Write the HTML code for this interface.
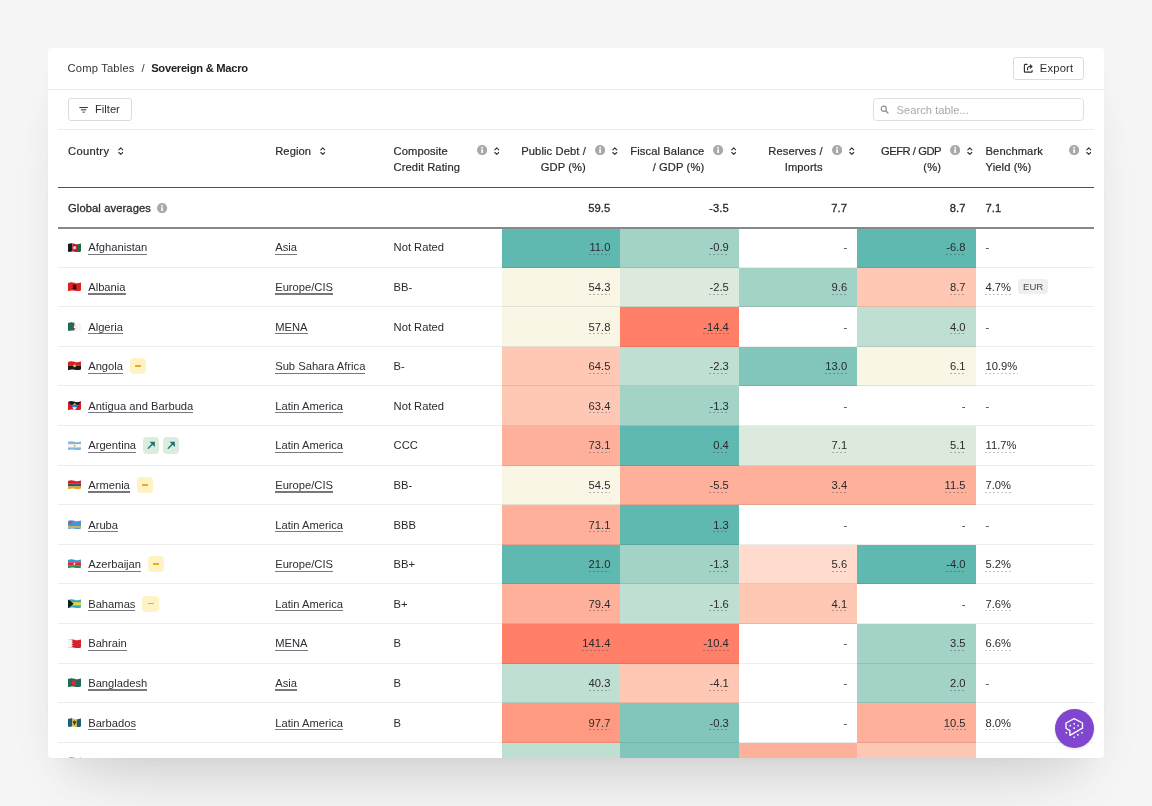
<!DOCTYPE html>
<html lang="en"><head><meta charset="utf-8"><title>Comp Tables / Sovereign &amp; Macro</title>
<style>
*{box-sizing:border-box;margin:0;padding:0}
html,body{width:1152px;height:806px;overflow:hidden;background:#f5f5f5}
body{font-family:"Liberation Sans",Arial,sans-serif;font-size:11.2px;color:#2a2a2e;position:relative}
.card{position:absolute;left:48px;top:48px;width:1056px;height:710px;background:#fff;border-radius:3.5px;overflow:hidden;
 box-shadow:0 26px 40px -16px rgba(0,0,0,.09),0 50px 80px -40px rgba(0,0,0,.11),0 1px 4px rgba(0,0,0,.015)}
.top{position:absolute;left:0;top:0;width:1056px;height:41.5px;border-bottom:1px solid #ececec}
.crumb{position:absolute;left:19.6px;top:12.9px;line-height:14px;white-space:nowrap;color:#34343a}
.crumb b{font-weight:700;color:#222226;letter-spacing:-.27px}
.crumb .ct{letter-spacing:.17px}
.crumb .sl{margin:0 6.5px 0 7px}
.btn{position:absolute;height:22.5px;border:1px solid #dcdcdc;border-radius:3px;background:#fff;display:flex;align-items:center;color:#2e2e33;white-space:nowrap}
.export{left:965px;top:9.3px;width:71px;padding-left:9px;padding-bottom:1.6px;letter-spacing:.2px}
.export svg{position:relative;top:.8px}
.export svg{margin-right:6.3px}
.filter{left:20px;top:50.3px;width:64px;padding-left:9.6px;padding-bottom:1.2px}
.filter svg{position:relative;top:.6px}
.filter svg{margin-right:7.2px}
.search{position:absolute;left:825px;top:50.3px;width:211px;height:22.5px;border:1px solid #dedede;border-radius:3.5px;display:flex;align-items:center;padding-left:6px;color:#a9a9ad}
.search svg{margin-right:7.6px}
.tbl{position:absolute;left:10px;top:81.3px;width:1036px;border-top:1px solid #ededed}
.hrow{display:flex;height:57.3px}
.ln1{position:absolute;left:0;width:1036px;top:56.4px;height:1.5px;background:#4d5158;z-index:3}
.ln2{position:absolute;left:0;width:1036px;top:96.7px;height:2.1px;background:#85888e;z-index:3}
.h{width:118.4px;flex:none;padding:12.7px 0 0 10px;line-height:16px;letter-spacing:.09px;-webkit-text-stroke:.2px #2a2a2e;position:relative;white-space:nowrap;color:#2a2a2e}
.c0{width:207.2px!important}
.h .sort{display:inline-block;vertical-align:.1px;margin-left:8.6px}
.h .ics{position:absolute;right:2.6px;top:14.4px;display:flex;align-items:center}
.h .ics .info{margin-right:7px}
.h .ics .sort{margin:2px 0 0 0}
.h.r .ht{display:block;text-align:right;padding-right:34.5px}
.h.l .ht{display:block}
.grow{display:flex;height:40.5px;align-items:center;-webkit-text-stroke:.3px #2a2a2e;letter-spacing:.1px;color:#2a2a2e}
.grow .c{height:100%}
.row{display:flex;height:39.6px;border-bottom:1px solid #ededed}
.c{width:118.4px;flex:none;padding:0 10px;display:flex;align-items:center;white-space:nowrap;position:relative}
.c.num{justify-content:flex-end}
.c.col{margin-bottom:-1px;border-bottom:1px solid rgba(0,0,0,.09);height:39.6px}
.flag{margin-right:7px;flex:none;border-radius:1px}
.lnk{color:#2e2e33;position:relative;display:inline-block;line-height:14px}
.lnk::after{content:'';position:absolute;left:0;right:0;top:13.4px;height:1.3px;background:#77777d}
.v{position:relative;display:inline-block;line-height:14px}
.v::after{content:'';position:absolute;left:0;right:0;top:13.6px;height:1px;background:repeating-linear-gradient(90deg,rgba(40,50,60,.34) 0 2.2px,transparent 2.2px 4px)}
.y .v::after{left:-.6px;right:-.6px;background:repeating-linear-gradient(90deg,#c4c4c9 0 2.3px,transparent 2.3px 4px)}
.dash{color:#444}
.bdg{display:inline-flex;width:16.4px;height:16.4px;border-radius:4px;margin-left:7px;align-items:center;justify-content:center;flex:none}
.bu + .bu{margin-left:3.3px}
.bn{background:#fff3c6}
.bn i{display:block;width:6px;height:1.5px;background:#eaa91f;border-radius:.5px}
.bu{background:#dcecdf}
.tag{margin-left:7px;background:#efefef;color:#4a4a50;font-size:9.6px;border-radius:3px;padding:0 5px;line-height:15px;height:15px}
.fab{position:absolute;left:1054.5px;top:708.5px;width:39.5px;height:39.5px;border-radius:50%;background:#8146d0;display:flex;align-items:center;justify-content:center;box-shadow:0 1px 3px rgba(0,0,0,.12)}
</style></head><body>
<svg width="0" height="0" style="position:absolute"><defs><clipPath id="wv"><path d="M0 .9C1.6 0 4.4 0 6.4.7S10.8 1.3 13 .1V7.1C11 8 8.6 7.9 6.5 7.4S1.8 6.9 0 7.9Z"/></clipPath></defs></svg>
<div class="card">
 <div class="top">
  <div class="crumb"><span class="ct">Comp Tables</span><span class="sl">/</span><b>Sovereign &amp; Macro</b></div>
  <div class="btn export"><svg viewBox="0 0 12 12" width="10.5" height="10.5"><path d="M4.6 1.6H2.4a.8.8 0 0 0-.8.8v7.2c0 .44.36.8.8.8h7.2a.8.8 0 0 0 .8-.8V8.6" fill="none" stroke="#2e2e33" stroke-width="1.3" stroke-linecap="round"/><path d="M5.2 7.6V6.3c0-1.3 1-2.3 2.3-2.3h1.4" fill="none" stroke="#2e2e33" stroke-width="1.3" stroke-linecap="round" stroke-linejoin="round"/><path d="M8.2 1.5l2.6 2.5-2.6 2.5z" fill="#2e2e33" stroke="#2e2e33" stroke-width=".5" stroke-linejoin="round"/></svg>Export</div>
 </div>
 <div class="btn filter"><svg viewBox="0 0 12 10" width="9.2" height="7.7"><path d="M1 2h10M3 5h6M5.2 8h1.6" fill="none" stroke="#2e2e33" stroke-width="1.3" stroke-linecap="round"/></svg>Filter</div>
 <div class="search"><svg viewBox="0 0 12 12" width="9" height="9"><circle cx="5" cy="5" r="3.4" fill="none" stroke="#8f8f94" stroke-width="1.6"/><path d="M7.6 7.6l3 3" stroke="#8f8f94" stroke-width="1.7" stroke-linecap="round"/></svg>Search table...</div>
 <div class="tbl">
  <div class="ln1"></div><div class="ln2"></div>
  <div class="hrow"><div class="h c0"><span class="ht1" style="letter-spacing:.3px">Country</span><svg class="sort" viewBox="0 0 6 9" width="5.6" height="8.4"><path d="M.9 3.1L3 1l2.1 2.1M.9 5.9L3 8l2.1-2.1" fill="none" stroke="#2e2e33" stroke-width="1.15" stroke-linecap="round" stroke-linejoin="round"/></svg></div><div class="h"><span class="ht1">Region</span><svg class="sort" viewBox="0 0 6 9" width="5.6" height="8.4"><path d="M.9 3.1L3 1l2.1 2.1M.9 5.9L3 8l2.1-2.1" fill="none" stroke="#2e2e33" stroke-width="1.15" stroke-linecap="round" stroke-linejoin="round"/></svg></div><div class="h l"><span class="ht">Composite<br>Credit Rating</span><span class="ics"><svg class="info" viewBox="0 0 12 12" width="10.2" height="10.2"><circle cx="6" cy="6" r="6" fill="#a9a9ab"/><rect x="5" y="4.9" width="2" height="4.6" rx=".3" fill="#fff"/><circle cx="6" cy="3.1" r="1.1" fill="#fff"/></svg><svg class="sort" viewBox="0 0 6 9" width="5.6" height="8.4"><path d="M.9 3.1L3 1l2.1 2.1M.9 5.9L3 8l2.1-2.1" fill="none" stroke="#2e2e33" stroke-width="1.15" stroke-linecap="round" stroke-linejoin="round"/></svg></span></div><div class="h r"><span class="ht">Public Debt /<br>GDP (%)</span><span class="ics"><svg class="info" viewBox="0 0 12 12" width="10.2" height="10.2"><circle cx="6" cy="6" r="6" fill="#a9a9ab"/><rect x="5" y="4.9" width="2" height="4.6" rx=".3" fill="#fff"/><circle cx="6" cy="3.1" r="1.1" fill="#fff"/></svg><svg class="sort" viewBox="0 0 6 9" width="5.6" height="8.4"><path d="M.9 3.1L3 1l2.1 2.1M.9 5.9L3 8l2.1-2.1" fill="none" stroke="#2e2e33" stroke-width="1.15" stroke-linecap="round" stroke-linejoin="round"/></svg></span></div><div class="h r"><span class="ht">Fiscal Balance<br>/ GDP (%)</span><span class="ics"><svg class="info" viewBox="0 0 12 12" width="10.2" height="10.2"><circle cx="6" cy="6" r="6" fill="#a9a9ab"/><rect x="5" y="4.9" width="2" height="4.6" rx=".3" fill="#fff"/><circle cx="6" cy="3.1" r="1.1" fill="#fff"/></svg><svg class="sort" viewBox="0 0 6 9" width="5.6" height="8.4"><path d="M.9 3.1L3 1l2.1 2.1M.9 5.9L3 8l2.1-2.1" fill="none" stroke="#2e2e33" stroke-width="1.15" stroke-linecap="round" stroke-linejoin="round"/></svg></span></div><div class="h r"><span class="ht">Reserves /<br>Imports</span><span class="ics"><svg class="info" viewBox="0 0 12 12" width="10.2" height="10.2"><circle cx="6" cy="6" r="6" fill="#a9a9ab"/><rect x="5" y="4.9" width="2" height="4.6" rx=".3" fill="#fff"/><circle cx="6" cy="3.1" r="1.1" fill="#fff"/></svg><svg class="sort" viewBox="0 0 6 9" width="5.6" height="8.4"><path d="M.9 3.1L3 1l2.1 2.1M.9 5.9L3 8l2.1-2.1" fill="none" stroke="#2e2e33" stroke-width="1.15" stroke-linecap="round" stroke-linejoin="round"/></svg></span></div><div class="h r"><span class="ht"><span style="letter-spacing:-.45px">GEFR / GDP</span><br>(%)</span><span class="ics"><svg class="info" viewBox="0 0 12 12" width="10.2" height="10.2"><circle cx="6" cy="6" r="6" fill="#a9a9ab"/><rect x="5" y="4.9" width="2" height="4.6" rx=".3" fill="#fff"/><circle cx="6" cy="3.1" r="1.1" fill="#fff"/></svg><svg class="sort" viewBox="0 0 6 9" width="5.6" height="8.4"><path d="M.9 3.1L3 1l2.1 2.1M.9 5.9L3 8l2.1-2.1" fill="none" stroke="#2e2e33" stroke-width="1.15" stroke-linecap="round" stroke-linejoin="round"/></svg></span></div><div class="h l"><span class="ht">Benchmark<br>Yield (%)</span><span class="ics"><svg class="info" viewBox="0 0 12 12" width="10.2" height="10.2"><circle cx="6" cy="6" r="6" fill="#a9a9ab"/><rect x="5" y="4.9" width="2" height="4.6" rx=".3" fill="#fff"/><circle cx="6" cy="3.1" r="1.1" fill="#fff"/></svg><svg class="sort" viewBox="0 0 6 9" width="5.6" height="8.4"><path d="M.9 3.1L3 1l2.1 2.1M.9 5.9L3 8l2.1-2.1" fill="none" stroke="#2e2e33" stroke-width="1.15" stroke-linecap="round" stroke-linejoin="round"/></svg></span></div></div>
  <div class="grow"><div class="c c0">Global averages<span style="margin-left:6.5px;display:inline-flex"><svg class="info" viewBox="0 0 12 12" width="10.2" height="10.2"><circle cx="6" cy="6" r="6" fill="#a9a9ab"/><rect x="5" y="4.9" width="2" height="4.6" rx=".3" fill="#fff"/><circle cx="6" cy="3.1" r="1.1" fill="#fff"/></svg></span></div><div class="c"></div><div class="c"></div><div class="c num">59.5</div><div class="c num">-3.5</div><div class="c num">7.7</div><div class="c num">8.7</div><div class="c">7.1</div></div>
<div class="row"><div class="c c0"><svg class="flag" viewBox="0 0 13 8" width="13.2" height="9.6" preserveAspectRatio="none"><g clip-path="url(#wv)"><rect width="4.4" height="8" fill="#1a1a1a"/><rect x="4.4" width="4.4" height="8" fill="#c8102e"/><rect x="8.8" width="4.2" height="8" fill="#1f6b3a"/><circle cx="6.5" cy="4" r="1.4" fill="#e9d9d0"/></g></svg><a class="lnk">Afghanistan</a></div><div class="c"><a class="lnk">Asia</a></div><div class="c">Not Rated</div><div class="c num col" style="background:#60b9b0"><span class="v">11.0</span></div><div class="c num col" style="background:#a3d2c6"><span class="v">-0.9</span></div><div class="c num"><span class="dash">-</span></div><div class="c num col" style="background:#60b9b0"><span class="v">-6.8</span></div><div class="c y"><span class="dash">-</span></div></div>
<div class="row"><div class="c c0"><svg class="flag" viewBox="0 0 13 8" width="13.2" height="9.6" preserveAspectRatio="none"><g clip-path="url(#wv)"><rect width="13" height="8" fill="#e0221c"/><path d="M4.5 2.2h4l-.6 1.6.8 1.6-2.2 1-2.2-1 .8-1.6z" fill="#2a0b0b"/></g></svg><a class="lnk">Albania</a></div><div class="c"><a class="lnk">Europe/CIS</a></div><div class="c">BB-</div><div class="c num col" style="background:#faf6e6"><span class="v">54.3</span></div><div class="c num col" style="background:#dceade"><span class="v">-2.5</span></div><div class="c num col" style="background:#a3d2c6"><span class="v">9.6</span></div><div class="c num col" style="background:#ffc8b4"><span class="v">8.7</span></div><div class="c y"><span class="v">4.7%</span><span class="tag">EUR</span></div></div>
<div class="row"><div class="c c0"><svg class="flag" viewBox="0 0 13 8" width="13.2" height="9.6" preserveAspectRatio="none"><g clip-path="url(#wv)"><rect width="6.5" height="8" fill="#1f6a55"/><rect x="6.5" width="6.5" height="8" fill="#f4f4f4"/><circle cx="6.3" cy="4" r="1.8" fill="#c81e2e"/><circle cx="7" cy="4" r="1.4" fill="#f4f4f4"/></g></svg><a class="lnk">Algeria</a></div><div class="c"><a class="lnk">MENA</a></div><div class="c">Not Rated</div><div class="c num col" style="background:#faf6e6"><span class="v">57.8</span></div><div class="c num col" style="background:#ff7f68"><span class="v">-14.4</span></div><div class="c num"><span class="dash">-</span></div><div class="c num col" style="background:#c0dfd3"><span class="v">4.0</span></div><div class="c y"><span class="dash">-</span></div></div>
<div class="row"><div class="c c0"><svg class="flag" viewBox="0 0 13 8" width="13.2" height="9.6" preserveAspectRatio="none"><g clip-path="url(#wv)"><rect width="13" height="4" fill="#d2202a"/><rect y="4" width="13" height="4" fill="#1a1a1a"/><circle cx="6.5" cy="4" r="1.3" fill="#f2c230"/></g></svg><a class="lnk">Angola</a><span class="bdg bn"><i></i></span></div><div class="c"><a class="lnk">Sub Sahara Africa</a></div><div class="c">B-</div><div class="c num col" style="background:#ffc8b4"><span class="v">64.5</span></div><div class="c num col" style="background:#c0dfd3"><span class="v">-2.3</span></div><div class="c num col" style="background:#82c5bb"><span class="v">13.0</span></div><div class="c num col" style="background:#faf6e6"><span class="v">6.1</span></div><div class="c y"><span class="v">10.9%</span></div></div>
<div class="row"><div class="c c0"><svg class="flag" viewBox="0 0 13 8" width="13.2" height="9.6" preserveAspectRatio="none"><g clip-path="url(#wv)"><rect width="13" height="8" fill="#d2202a"/><path d="M0 0h13L6.5 8z" fill="#1a1a1a"/><path d="M2.6 3.2h7.8L6.5 8z" fill="#2a7fd4"/><path d="M4.2 5.2h4.6L6.5 8z" fill="#fff"/><path d="M4.6 3.2l1.9-1.6 1.9 1.6z" fill="#f2c230"/></g></svg><a class="lnk">Antigua and Barbuda</a></div><div class="c"><a class="lnk">Latin America</a></div><div class="c">Not Rated</div><div class="c num col" style="background:#ffc8b4"><span class="v">63.4</span></div><div class="c num col" style="background:#a3d2c6"><span class="v">-1.3</span></div><div class="c num"><span class="dash">-</span></div><div class="c num"><span class="dash">-</span></div><div class="c y"><span class="dash">-</span></div></div>
<div class="row"><div class="c c0"><svg class="flag" viewBox="0 0 13 8" width="13.2" height="9.6" preserveAspectRatio="none"><g clip-path="url(#wv)"><rect width="13" height="8" fill="#f6f6f6"/><rect width="13" height="2.6" fill="#7fb6e6"/><rect y="5.4" width="13" height="2.6" fill="#7fb6e6"/><circle cx="6.5" cy="4" r="0.9" fill="#e9b13a"/></g></svg><a class="lnk">Argentina</a><span class="bdg bu"><svg viewBox="0 0 16.4 16.4" width="16.4" height="16.4"><path d="M5.3 11.2L9.6 6.9" fill="none" stroke="#23807a" stroke-width="1.5" stroke-linecap="round"/><path d="M6.6 4.8h5.2v5.2z" fill="#1f6f6b"/></svg></span><span class="bdg bu"><svg viewBox="0 0 16.4 16.4" width="16.4" height="16.4"><path d="M5.3 11.2L9.6 6.9" fill="none" stroke="#23807a" stroke-width="1.5" stroke-linecap="round"/><path d="M6.6 4.8h5.2v5.2z" fill="#1f6f6b"/></svg></span></div><div class="c"><a class="lnk">Latin America</a></div><div class="c">CCC</div><div class="c num col" style="background:#ffb09a"><span class="v">73.1</span></div><div class="c num col" style="background:#60b9b0"><span class="v">0.4</span></div><div class="c num col" style="background:#dceade"><span class="v">7.1</span></div><div class="c num col" style="background:#dceade"><span class="v">5.1</span></div><div class="c y"><span class="v">11.7%</span></div></div>
<div class="row"><div class="c c0"><svg class="flag" viewBox="0 0 13 8" width="13.2" height="9.6" preserveAspectRatio="none"><g clip-path="url(#wv)"><rect width="13" height="2.7" fill="#e01a1f"/><rect y="2.7" width="13" height="2.7" fill="#1f5f7c"/><rect y="5.3" width="13" height="2.7" fill="#f2a01e"/></g></svg><a class="lnk">Armenia</a><span class="bdg bn"><i></i></span></div><div class="c"><a class="lnk">Europe/CIS</a></div><div class="c">BB-</div><div class="c num col" style="background:#faf6e6"><span class="v">54.5</span></div><div class="c num col" style="background:#ffb09a"><span class="v">-5.5</span></div><div class="c num col" style="background:#ffb09a"><span class="v">3.4</span></div><div class="c num col" style="background:#ffb09a"><span class="v">11.5</span></div><div class="c y"><span class="v">7.0%</span></div></div>
<div class="row"><div class="c c0"><svg class="flag" viewBox="0 0 13 8" width="13.2" height="9.6" preserveAspectRatio="none"><g clip-path="url(#wv)"><rect width="13" height="8" fill="#4a90e0"/><rect y="5" width="13" height="0.6" fill="#f2d230"/><rect y="6.2" width="13" height="0.6" fill="#f2d230"/><circle cx="2.4" cy="2.2" r="1" fill="#e0304a"/></g></svg><a class="lnk">Aruba</a></div><div class="c"><a class="lnk">Latin America</a></div><div class="c">BBB</div><div class="c num col" style="background:#ffb09a"><span class="v">71.1</span></div><div class="c num col" style="background:#60b9b0"><span class="v">1.3</span></div><div class="c num"><span class="dash">-</span></div><div class="c num"><span class="dash">-</span></div><div class="c y"><span class="dash">-</span></div></div>
<div class="row"><div class="c c0"><svg class="flag" viewBox="0 0 13 8" width="13.2" height="9.6" preserveAspectRatio="none"><g clip-path="url(#wv)"><rect width="13" height="2.7" fill="#2a9ad8"/><rect y="2.7" width="13" height="2.7" fill="#d8283a"/><rect y="5.3" width="13" height="2.7" fill="#2c8a5a"/><circle cx="6.3" cy="4" r="0.9" fill="#fff"/></g></svg><a class="lnk">Azerbaijan</a><span class="bdg bn"><i></i></span></div><div class="c"><a class="lnk">Europe/CIS</a></div><div class="c">BB+</div><div class="c num col" style="background:#60b9b0"><span class="v">21.0</span></div><div class="c num col" style="background:#a3d2c6"><span class="v">-1.3</span></div><div class="c num col" style="background:#ffdccd"><span class="v">5.6</span></div><div class="c num col" style="background:#60b9b0"><span class="v">-4.0</span></div><div class="c y"><span class="v">5.2%</span></div></div>
<div class="row"><div class="c c0"><svg class="flag" viewBox="0 0 13 8" width="13.2" height="9.6" preserveAspectRatio="none"><g clip-path="url(#wv)"><rect width="13" height="8" fill="#2ab0c4"/><rect y="2.7" width="13" height="2.6" fill="#f2d230"/><path d="M0 0l5.6 4L0 8z" fill="#1a1a1a"/></g></svg><a class="lnk">Bahamas</a><span class="bdg bn"><i></i></span></div><div class="c"><a class="lnk">Latin America</a></div><div class="c">B+</div><div class="c num col" style="background:#ffb09a"><span class="v">79.4</span></div><div class="c num col" style="background:#c0dfd3"><span class="v">-1.6</span></div><div class="c num col" style="background:#ffc8b4"><span class="v">4.1</span></div><div class="c num"><span class="dash">-</span></div><div class="c y"><span class="v">7.6%</span></div></div>
<div class="row"><div class="c c0"><svg class="flag" viewBox="0 0 13 8" width="13.2" height="9.6" preserveAspectRatio="none"><g clip-path="url(#wv)"><rect width="13" height="8" fill="#d8202c"/><path d="M0 0h3.4l1.6 .8-1.6 .8 1.6 .8-1.6 .8 1.6 .8-1.6 .8 1.6 .8-1.6 .8 1.6 .8-1.6 .8H0z" fill="#f6f6f6"/></g></svg><a class="lnk">Bahrain</a></div><div class="c"><a class="lnk">MENA</a></div><div class="c">B</div><div class="c num col" style="background:#ff7f68"><span class="v">141.4</span></div><div class="c num col" style="background:#ff7f68"><span class="v">-10.4</span></div><div class="c num"><span class="dash">-</span></div><div class="c num col" style="background:#a3d2c6"><span class="v">3.5</span></div><div class="c y"><span class="v">6.6%</span></div></div>
<div class="row"><div class="c c0"><svg class="flag" viewBox="0 0 13 8" width="13.2" height="9.6" preserveAspectRatio="none"><g clip-path="url(#wv)"><rect width="13" height="8" fill="#1f6a55"/><circle cx="5.8" cy="4" r="2.2" fill="#e0243a"/></g></svg><a class="lnk">Bangladesh</a></div><div class="c"><a class="lnk">Asia</a></div><div class="c">B</div><div class="c num col" style="background:#c0dfd3"><span class="v">40.3</span></div><div class="c num col" style="background:#ffc8b4"><span class="v">-4.1</span></div><div class="c num"><span class="dash">-</span></div><div class="c num col" style="background:#a3d2c6"><span class="v">2.0</span></div><div class="c y"><span class="dash">-</span></div></div>
<div class="row"><div class="c c0"><svg class="flag" viewBox="0 0 13 8" width="13.2" height="9.6" preserveAspectRatio="none"><g clip-path="url(#wv)"><rect width="4.4" height="8" fill="#1c5f72"/><rect x="4.4" width="4.3" height="8" fill="#f2c230"/><rect x="8.7" width="4.3" height="8" fill="#1c5f72"/><path d="M6.5 2v4M5.3 2.6v1.6h2.4V2.6" stroke="#1a1a1a" stroke-width=".7" fill="none"/></g></svg><a class="lnk">Barbados</a></div><div class="c"><a class="lnk">Latin America</a></div><div class="c">B</div><div class="c num col" style="background:#ff9a82"><span class="v">97.7</span></div><div class="c num col" style="background:#82c5bb"><span class="v">-0.3</span></div><div class="c num"><span class="dash">-</span></div><div class="c num col" style="background:#ffb09a"><span class="v">10.5</span></div><div class="c y"><span class="v">8.0%</span></div></div>
<div class="row"><div class="c c0"><svg class="flag" viewBox="0 0 13 8" width="13.2" height="9.6" preserveAspectRatio="none"><g clip-path="url(#wv)"><rect width="13" height="5.4" fill="#e0673f"/><rect y="5.4" width="13" height="2.6" fill="#2c8a3a"/><rect width="1.6" height="8" fill="#f4e6e0"/></g></svg></div><div class="c"></div><div class="c"></div><div class="c num col" style="background:#c0dfd3"></div><div class="c num col" style="background:#82c5bb"></div><div class="c num col" style="background:#ffb09a"></div><div class="c num col" style="background:#ffc8b4"></div><div class="c y"></div></div>
 </div>
</div>
<div class="fab"><svg viewBox="-12 -12 24 24" width="24" height="24"><path d="M.2-9.3L8.5-5V.2L-4.1 7.4V2.6L-8 .2V-5z" fill="none" stroke="#fff" stroke-width="1.35" stroke-linejoin="round"/><g fill="#fff"><rect x="-.6" y="-4.9" width="1.6" height="1.6" rx=".4"/><rect x="-4.5" y="-3.2" width="1.6" height="1.6" rx=".4"/><rect x="3.3" y="-3.2" width="1.6" height="1.6" rx=".4"/><rect x="-.6" y="-.7" width="1.6" height="1.6" rx=".4"/><rect x="-8.4" y="3.9" width="1.6" height="1.6" rx=".4"/><rect x="-.6" y="8.4" width="1.6" height="1.6" rx=".4"/><rect x="3.1" y="6.1" width="1.6" height="1.6" rx=".4"/><rect x="7.2" y="3.9" width="1.6" height="1.6" rx=".4"/></g></svg></div>
</body></html>
